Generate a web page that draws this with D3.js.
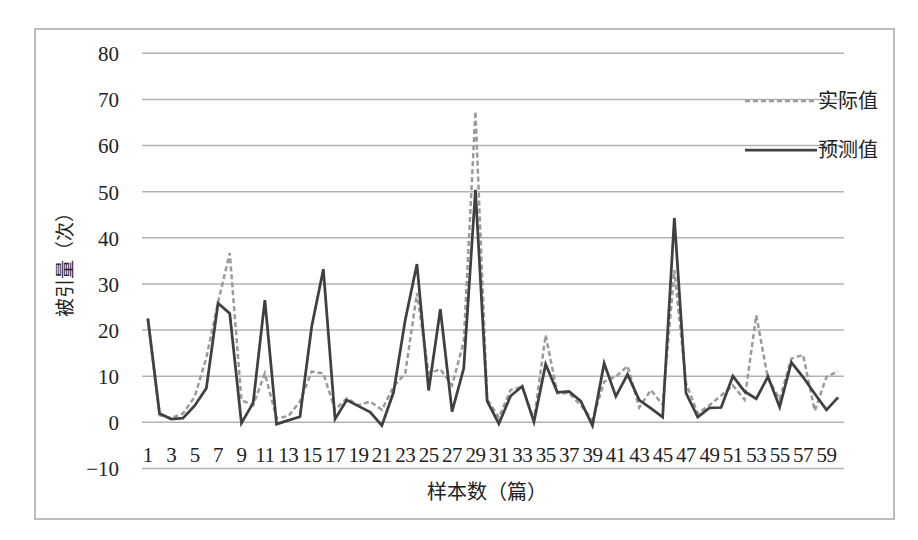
<!DOCTYPE html>
<html>
<head>
<meta charset="utf-8">
<script src="https://cdn.jsdelivr.net/npm/d3@7"></script>
<style>
  body { margin: 0; background: #fff; }
  svg { display: block; }
</style>
</head>
<body>
<svg width="918" height="540"></svg>
<script>
// Sample numbers 1..60
var samples = d3.range(1, 61);

// 实际值 (dashed)
var actual = [22.5, 1.5, 0.9, 1.9, 5.5, 14, 26, 36.7, 4.8, 3.7,
    10.6, 0.9, 1.3, 4.5, 11, 10.6, 2.7, 5.2, 3.7, 4.5,
    2.7, 7.7, 10.6, 28, 10.6, 11.5, 8, 17.5, 67.4, 5,
    1, 7, 7.7, 0.5, 18.9, 6.3, 6.3, 3.7, 0.5, 8.8,
    9.9, 12.2, 3.2, 7, 3.8, 33, 8.5, 1.9, 3.7, 5.8,
    8, 4.9, 23.2, 9.5, 5, 13.8, 14.6, 2.5, 9.8, 11.1];

// 预测值 (solid)
var predicted = [22.5, 1.9, 0.7, 0.9, 3.6, 7.4, 25.8, 23.6, -0.2, 4.2,
    26.5, -0.4, 0.4, 1.2, 20.7, 33.2, 0.7, 4.8, 3.5, 2.2,
    -0.7, 6.5, 22.2, 34.3, 6.9, 24.5, 2.3, 11.7, 50.4, 4.6,
    -0.3, 5.7, 7.8, 0.1, 12.6, 6.5, 6.7, 4.6, -0.7, 12.8,
    5.6, 10.4, 4.8, 3, 1.1, 44.3, 6.3, 1.1, 3.1, 3.2,
    10, 6.7, 5.1, 9.9, 3.3, 13, 9.8, 6.2, 2.7, 5.4];

var yTicks = [-10, 0, 10, 20, 30, 40, 50, 60, 70, 80];
var seriesNames = ["实际值", "预测值"];

// plot area (note: "top" is reserved on window, so prefix everything)
var plotLeft = 142, plotRight = 844, plotTop = 53.3, plotBottom = 468.4;
var numFont = "'Liberation Serif', 'Times New Roman', serif";
var cjkFont = "'Noto Sans CJK SC', sans-serif";

var svg = d3.select("svg");

// outer frame
svg.append("rect")
    .attr("x", 35).attr("y", 29)
    .attr("width", 859).attr("height", 490)
    .attr("fill", "#fff")
    .attr("stroke", "#bdbdbd")
    .attr("stroke-width", 2);

var xscale = d3.scaleBand().domain(samples).range([plotLeft, plotRight]);
var yscale = d3.scaleLinear().domain([-10, 80]).range([plotBottom, plotTop]);
var cx = function(i) { return xscale(samples[i]) + xscale.bandwidth() / 2; };

// gridlines
svg.append("g")
    .selectAll("line")
    .data(yTicks)
    .enter().append("line")
    .attr("x1", plotLeft).attr("x2", plotRight)
    .attr("y1", function(d) { return yscale(d); })
    .attr("y2", function(d) { return yscale(d); })
    .attr("stroke", "#b3b3b3")
    .attr("stroke-width", 1.5);

// y axis labels
var yAxis = svg.append("g")
    .attr("transform", "translate(" + (plotLeft - 23) + ",0)")
    .call(d3.axisLeft(yscale).tickValues(yTicks).tickSize(0)
        .tickFormat(function(d) { return d < 0 ? "\u2212" + Math.abs(d) : d; }));
yAxis.select(".domain").remove();
yAxis.selectAll("text")
    .attr("x", 0)
    .attr("dy", "0.35em")
    .style("font-family", numFont)
    .style("font-size", "21px")
    .attr("fill", "#222");

// x axis labels (odd samples only)
var xAxis = svg.append("g")
    .attr("transform", "translate(0," + 455 + ")")
    .call(d3.axisBottom(xscale).tickSize(0)
        .tickValues(samples.filter(function(d) { return d % 2 === 1; })));
xAxis.select(".domain").remove();
xAxis.selectAll("text")
    .attr("y", 0)
    .attr("dy", "0.35em")
    .style("font-family", numFont)
    .style("font-size", "21px")
    .style("letter-spacing", "-0.5px")
    .attr("fill", "#222");

var line = d3.line()
    .x(function(d, i) { return cx(i); })
    .y(function(d) { return yscale(d); });

// actual values - dashed
svg.append("path")
    .datum(actual)
    .attr("d", line)
    .attr("fill", "none")
    .attr("stroke", "#9a9a9a")
    .attr("stroke-width", 2.5)
    .attr("stroke-dasharray", "5,3");

// predicted values - solid
svg.append("path")
    .datum(predicted)
    .attr("d", line)
    .attr("fill", "none")
    .attr("stroke", "#404040")
    .attr("stroke-width", 2.75)
    .attr("stroke-linejoin", "miter");

// legend
var legend = svg.append("g");
var legendY = [101, 150];
legend.selectAll("line")
    .data(seriesNames)
    .enter().append("line")
    .attr("x1", 745).attr("x2", 817)
    .attr("y1", function(d, i) { return legendY[i]; })
    .attr("y2", function(d, i) { return legendY[i]; })
    .attr("stroke", function(d, i) { return i === 0 ? "#9a9a9a" : "#404040"; })
    .attr("stroke-width", function(d, i) { return i === 0 ? 2.5 : 2.75; })
    .attr("stroke-dasharray", function(d, i) { return i === 0 ? "5,3" : null; });
legend.selectAll("text")
    .data(seriesNames)
    .enter().append("text")
    .attr("x", 818)
    .attr("y", function(d, i) { return legendY[i]; })
    .attr("dy", "0.35em")
    .style("font-family", cjkFont)
    .style("font-size", "20px")
    .attr("fill", "#222")
    .text(function(d) { return d; });

// axis titles
svg.append("text")
    .attr("transform", "translate(65,260) rotate(-90)")
    .attr("text-anchor", "middle")
    .attr("dy", "0.35em")
    .style("font-family", cjkFont)
    .style("font-size", "19px")
    .attr("fill", "#222")
    .text("被引量（次）");

svg.append("text")
    .attr("x", 487).attr("y", 492)
    .attr("text-anchor", "middle")
    .attr("dy", "0.35em")
    .style("font-family", cjkFont)
    .style("font-size", "20px")
    .attr("fill", "#222")
    .text("样本数（篇）");
</script>
</body>
</html>
